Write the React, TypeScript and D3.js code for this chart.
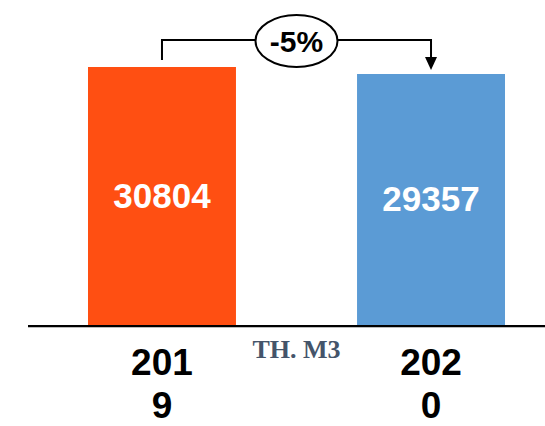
import * as d3 from "d3";

const categories = ["2019", "2020"];
const values = [30804, 29357];
const changeLabel = "-5%";
const unitLabel = "TH. M3";
const colors = ["#FF4F12", "#5B9BD5"];
// the picture's bars do not start from zero
const yFloor = -22700;

const W = 545;
const H = 426;
const baseY = 326;
const topY = 67;

export default function App() {
  const x = d3
    .scaleBand<string>()
    .domain(categories)
    .range([28, 565])
    .paddingInner(0.45)
    .paddingOuter(0.223);

  const y = d3
    .scaleLinear()
    .domain([yFloor, d3.max(values) as number])
    .range([baseY, topY]);

  const bw = x.bandwidth();
  const cx = categories.map((c) => (x(c) as number) + bw / 2);
  const bracketY = 40;
  const leftEnd = y(values[0]) - 7;
  const arrowTip = y(values[1]) - 4;
  const midX = (cx[0] + cx[1]) / 2;

  return (
    <svg
      width={W}
      height={H}
      style={{ position: "absolute", left: 0, top: 0, background: "#fff" }}
    >
      {categories.map((c, i) => (
        <g key={c}>
          <rect
            x={x(c)}
            y={y(values[i])}
            width={bw}
            height={baseY - y(values[i])}
            fill={colors[i]}
          />
          <text
            x={cx[i]}
            y={(y(values[i]) + baseY) / 2 + 11}
            textAnchor="middle"
            fill="#fff"
            fontFamily="Liberation Sans"
            fontWeight="bold"
            fontSize={35}
          >
            {values[i]}
          </text>
          <text
            textAnchor="middle"
            fontFamily="Liberation Sans"
            fontWeight="bold"
            fontSize={37}
            fill="#000"
          >
            <tspan x={cx[i]} y={375}>
              {c.slice(0, 3)}
            </tspan>
            <tspan x={cx[i]} y={418}>
              {c.slice(3)}
            </tspan>
          </text>
        </g>
      ))}

      <line x1={28} x2={W} y1={baseY + 1} y2={baseY + 1} stroke="#bbb" strokeWidth={2} />
      <line x1={28} x2={W} y1={baseY} y2={baseY} stroke="#000" strokeWidth={2} />

      <path
        d={`M${cx[0]},${leftEnd}V${bracketY}H${cx[1]}V${arrowTip - 12}`}
        fill="none"
        stroke="#000"
        strokeWidth={2}
      />
      <path
        d={`M${cx[1] - 6},${arrowTip - 13}L${cx[1] + 6},${arrowTip - 13}L${cx[1]},${arrowTip}Z`}
        fill="#000"
      />
      <ellipse cx={midX} cy={bracketY + 1} rx={41} ry={26} fill="#fff" stroke="#000" strokeWidth={2} />
      <text
        x={midX}
        y={bracketY + 12}
        textAnchor="middle"
        fontFamily="Liberation Sans"
        fontWeight="bold"
        fontSize={30}
        fill="#000"
      >
        {changeLabel}
      </text>

      <text
        x={midX}
        y={358}
        textAnchor="middle"
        fontFamily="Liberation Serif"
        fontWeight="bold"
        fontSize={26}
        fill="#44546A"
      >
        {unitLabel}
      </text>
    </svg>
  );
}
